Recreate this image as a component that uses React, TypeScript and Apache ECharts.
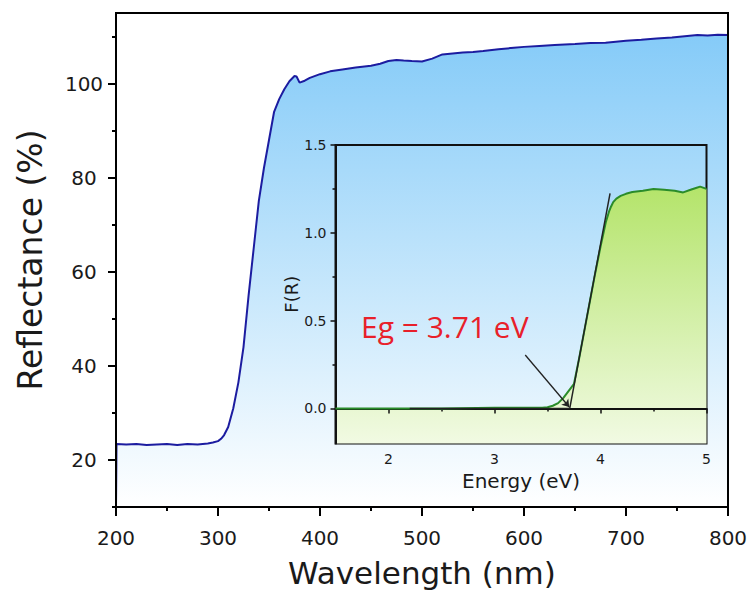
import React, { useEffect, useRef } from "react";
import * as echarts from "echarts";

// Main spectrum: reflectance (%) vs wavelength (nm)
const wavelength = [200, 200.5, 210, 220, 230, 240, 250, 260, 270, 280, 290, 295, 300, 303, 306, 310, 315, 320, 325, 330, 335, 340, 345, 350, 355, 360, 365, 370, 375, 377, 380, 385, 390, 400, 410, 422, 435, 450, 459, 467, 475, 482, 490, 500, 510, 520, 530, 540, 550, 560, 575, 590, 600, 615, 630, 650, 665, 680, 700, 715, 730, 745, 760, 770, 780, 790, 800];
const reflectance = [10, 23.4, 23.3, 23.4, 23.2, 23.3, 23.4, 23.2, 23.4, 23.3, 23.5, 23.7, 24.0, 24.5, 25.3, 27, 31, 36.5, 44, 55, 65, 75, 82, 88, 94, 96.7, 98.8, 100.5, 101.6, 101.5, 100.2, 100.6, 101.2, 102, 102.6, 103, 103.4, 103.8, 104.2, 104.8, 105, 104.9, 104.8, 104.7, 105.3, 106.2, 106.4, 106.6, 106.7, 106.9, 107.3, 107.6, 107.8, 108.0, 108.2, 108.4, 108.6, 108.7, 109.1, 109.3, 109.6, 109.8, 110.1, 110.3, 110.2, 110.4, 110.3];

// Inset: Kubelka-Munk F(R) vs photon energy (eV)
const energy = [1.5, 2.0, 2.5, 3.0, 3.3, 3.45, 3.5, 3.55, 3.6, 3.65, 3.7, 3.75, 3.8, 3.85, 3.9, 3.95, 4.0, 4.05, 4.08, 4.1, 4.12, 4.15, 4.19, 4.24, 4.3, 4.4, 4.5, 4.6, 4.7, 4.78, 4.85, 4.9, 4.94, 5.0];
const fr = [0.0, 0.0, 0.0, 0.003, 0.004, 0.004, 0.006, 0.015, 0.03, 0.06, 0.1, 0.14, 0.29, 0.45, 0.61, 0.77, 0.92, 1.06, 1.12, 1.15, 1.175, 1.195, 1.21, 1.222, 1.232, 1.24, 1.25, 1.245, 1.24, 1.23, 1.245, 1.255, 1.263, 1.25];

// Tangent / baseline / arrow for the band-gap construction
const tangentE = [3.71, 4.09];
const tangentF = [0, 1.224];
const baselineE = [2.2, 3.71];
const baselineF = [0, 0];
const arrowFrom = [3.29, 0.304];
const arrowTo = [3.705, 0.008];
const bandGapLabel = "Eg = 3.71 eV";

// Ticks
const mainXMin = 200, mainXMax = 800, mainXStep = 100;
const mainYMajor = [20, 40, 60, 80, 100];
const mainYMinor = [10, 30, 50, 70, 90, 110];
const insetXMajor = [2, 3, 4, 5];
const insetXMinor = [2.5, 3.5, 4.5];
const insetYMajor = [0, 0.5, 1.0, 1.5];
const insetYMinor = [0.25, 0.75, 1.25];

const FONT = "DejaVu Sans";
const TXT = "#1a1a1a";

export default function App() {
  const ref = useRef<HTMLDivElement>(null);
  useEffect(() => {
    if (!ref.current) return;
    const chart = echarts.init(ref.current, null, { renderer: "svg" });
    const axisLine = { show: true, lineStyle: { color: "#000", width: 2 } };
    const hidden = { show: false };
    const option: any = {
      animation: false,
      backgroundColor: "#fff",
      grid: [
        { left: 116, top: 13, width: 612, height: 494, show: true, borderColor: "#000", borderWidth: 2, backgroundColor: "transparent", z: 3 },
        { left: 335.5, top: 145, width: 371, height: 298.5, show: true, borderColor: "#111", borderWidth: 2, backgroundColor: "transparent", z: 5 },
      ],
      xAxis: [
        {
          type: "value", gridIndex: 0, position: "bottom", min: mainXMin, max: mainXMax, interval: mainXStep, z: 3,
          axisLine, splitLine: hidden,
          axisTick: { show: true, length: 9, lineStyle: { color: "#000", width: 2 } },
          minorTick: { show: true, splitNumber: 2, length: 4, lineStyle: { color: "#000", width: 2 } },
          axisLabel: { fontSize: 20, color: TXT, margin: 21, fontFamily: FONT },
          name: "Wavelength (nm)", nameLocation: "middle", nameGap: 50,
          nameTextStyle: { fontSize: 31, color: TXT, fontFamily: FONT },
        },
        {
          type: "value", gridIndex: 1, position: "bottom", min: 1.5, max: 5, z: 6,
          axisLine: { show: true, lineStyle: { color: "#111", width: 2 } }, splitLine: hidden,
          axisTick: { show: true, length: 5, customValues: insetXMajor, lineStyle: { color: "#111", width: 1.5 } },
          axisLabel: { fontSize: 14, color: TXT, margin: 8, fontFamily: FONT, customValues: insetXMajor },
          name: "Energy (eV)", nameLocation: "middle", nameGap: 27,
          nameTextStyle: { fontSize: 20, color: TXT, fontFamily: FONT },
        },
        {
          type: "value", gridIndex: 1, position: "bottom", offset: 0, min: 1.5, max: 5, z: 6,
          axisLine: hidden, splitLine: hidden, axisLabel: hidden,
          axisTick: { show: true, length: 3, customValues: insetXMinor, lineStyle: { color: "#111", width: 1.5 } },
        },
      ],
      yAxis: [
        {
          type: "value", gridIndex: 0, position: "left", min: 10, max: 115, z: 3,
          axisLine, splitLine: hidden,
          axisTick: { show: true, length: 8, customValues: mainYMajor, lineStyle: { color: "#000", width: 2 } },
          axisLabel: { fontSize: 20, color: TXT, margin: 32, align: "center", fontFamily: FONT, customValues: mainYMajor },
          name: "Reflectance (%)", nameLocation: "middle", nameGap: 69,
          nameTextStyle: { fontSize: 33, color: TXT, fontFamily: FONT },
        },
        {
          type: "value", gridIndex: 0, position: "left", offset: 0, min: 10, max: 115, z: 3,
          axisLine: hidden, splitLine: hidden, axisLabel: hidden,
          axisTick: { show: true, length: 4, customValues: mainYMinor, lineStyle: { color: "#000", width: 2 } },
        },
        {
          type: "value", gridIndex: 1, position: "left", min: -0.2, max: 1.5, z: 6,
          axisLine: { show: true, lineStyle: { color: "#111", width: 2 } }, splitLine: hidden,
          axisTick: { show: true, length: 5, customValues: insetYMajor, lineStyle: { color: "#111", width: 1.5 } },
          axisLabel: { fontSize: 14, color: TXT, margin: 9, fontFamily: FONT, customValues: insetYMajor, formatter: (v: number) => v.toFixed(1) },
          name: "F(R)", nameLocation: "middle", nameGap: 32,
          nameTextStyle: { fontSize: 18, color: TXT, fontFamily: FONT },
        },
        {
          type: "value", gridIndex: 1, position: "left", offset: 0, min: -0.2, max: 1.5, z: 6,
          axisLine: hidden, splitLine: hidden, axisLabel: hidden,
          axisTick: { show: true, length: 3, customValues: insetYMinor, lineStyle: { color: "#111", width: 1.5 } },
        },
      ],
      series: [
        {
          type: "line", xAxisIndex: 0, yAxisIndex: 0, z: 2,
          data: wavelength.map((w, i) => [w, reflectance[i]]),
          showSymbol: false, symbol: "none",
          lineStyle: { color: "#1c1ca0", width: 2 },
          areaStyle: {
            origin: "start",
            color: new echarts.graphic.LinearGradient(0, 0, 0, 1, [
              { offset: 0, color: "#85cbf8" },
              { offset: 1, color: "#ffffff" },
            ]),
            opacity: 1,
          },
        },
        {
          type: "line", xAxisIndex: 1, yAxisIndex: 2, z: 6,
          data: energy.map((e, i) => [e, fr[i]]),
          showSymbol: false, symbol: "none",
          lineStyle: { color: "#2a8c2a", width: 2 },
          areaStyle: {
            origin: "start",
            color: new echarts.graphic.LinearGradient(0, 0, 0, 1, [
              { offset: 0, color: "#b4e46a" },
              { offset: 1, color: "#f1fae3" },
            ]),
            opacity: 1,
          },
        },
        {
          type: "line", xAxisIndex: 1, yAxisIndex: 2, z: 7,
          data: baselineE.map((e, i) => [e, baselineF[i]]),
          showSymbol: false, symbol: "none",
          lineStyle: { color: "#222", width: 1.5 },
        },
        {
          type: "line", xAxisIndex: 1, yAxisIndex: 2, z: 7,
          data: tangentE.map((e, i) => [e, tangentF[i]]),
          showSymbol: false, symbol: "none",
          lineStyle: { color: "#222", width: 1.5 },
        },
        {
          type: "lines", coordinateSystem: "cartesian2d", xAxisIndex: 1, yAxisIndex: 2, z: 7,
          symbol: ["none", "arrow"], symbolSize: 7,
          lineStyle: { color: "#222", width: 1.3, opacity: 1 },
          data: [{ coords: [arrowFrom, arrowTo] }],
        },
      ],
      graphic: [
        {
          type: "text", x: 361, y: 311, z: 20,
          style: { text: bandGapLabel, fill: "#e8202a", fontSize: 30, fontFamily: "Open Sans", textVerticalAlign: "top" },
        },
      ],
    };
    chart.setOption(option);
    return () => chart.dispose();
  }, []);
  return <div ref={ref} style={{ position: "fixed", left: 0, top: 0, width: 752, height: 605, background: "#fff" }} />;
}
